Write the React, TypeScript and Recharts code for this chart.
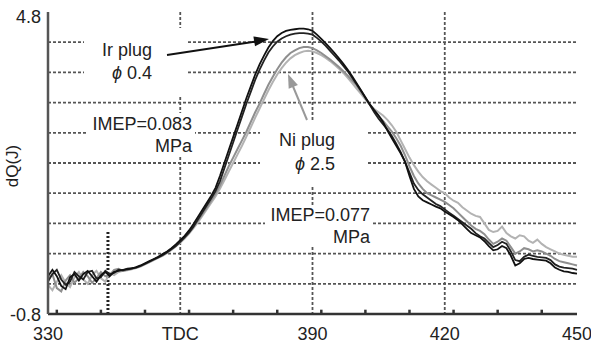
import { CartesianGrid, Line, LineChart, ReferenceLine, XAxis, YAxis } from "recharts";

const FONT = "'Liberation Sans', Arial, Helvetica, sans-serif";

// crank angle (deg)
const crankAngle = [
  330, 331, 332, 333, 334, 335, 336, 337, 338, 339,
  340, 341, 342, 343, 344, 345, 346, 347, 348, 349,
  350, 351, 352, 353, 354, 355, 356, 357, 358, 359,
  360, 361, 362, 363, 364, 365, 366, 367, 368, 369,
  370, 371, 372, 373, 374, 375, 376, 377, 378, 379,
  380, 381, 382, 383, 384, 385, 386, 387, 388, 389,
  390, 391, 392, 393, 394, 395, 396, 397, 398, 399,
  400, 401, 402, 403, 404, 405, 406, 407, 408, 409,
  410, 411, 412, 413, 414, 415, 416, 417, 418, 419,
  420, 421, 422, 423, 424, 425, 426, 427, 428, 429,
  430, 431, 432, 433, 434, 435, 436, 437, 438, 439,
  440, 441, 442, 443, 444, 445, 446, 447, 448, 449,
  450,
];

// Ir plug, phi 0.4 (two cycles)
const irA = [
  -0.1, 0.02, -0.1, -0.28, -0.34, -0.12, -0.06, -0.18, -0.06, 0.0,
  -0.1, -0.2, -0.08, -0.02, -0.1, -0.02, 0.0, 0.02, 0.03, 0.04,
  0.07, 0.1, 0.14, 0.18, 0.22, 0.26, 0.31, 0.36, 0.42, 0.49,
  0.57, 0.65, 0.75, 0.87, 1.0, 1.13, 1.26, 1.39, 1.54, 1.76,
  2.0, 2.24, 2.48, 2.72, 2.96, 3.2, 3.42, 3.64, 3.83, 3.99,
  4.14, 4.26, 4.35, 4.41, 4.45, 4.47, 4.48, 4.49, 4.49, 4.48,
  4.45, 4.38, 4.3, 4.22, 4.13, 4.04, 3.94, 3.84, 3.73, 3.61,
  3.48, 3.35, 3.21, 3.09, 2.98, 2.88, 2.76, 2.6, 2.46, 2.32,
  2.18, 2.02, 1.76, 1.52, 1.38, 1.31, 1.27, 1.23, 1.19, 1.16,
  1.1, 1.05, 1.0, 0.94, 0.86, 0.78, 0.7, 0.66, 0.62, 0.55,
  0.46, 0.38, 0.4, 0.46, 0.42, 0.28, 0.1, 0.14, 0.22, 0.24,
  0.22, 0.21, 0.2, 0.19, 0.14, 0.06, 0.02, -0.01, -0.02, -0.04,
  -0.05,
];
const irB = [
  -0.2, -0.06, 0.02, -0.16, -0.26, -0.2, -0.02, -0.1, -0.16, -0.02,
  0.0, -0.14, -0.12, 0.0, -0.06, -0.04, 0.02, 0.01, 0.04, 0.05,
  0.06, 0.09, 0.13, 0.17, 0.21, 0.25, 0.29, 0.34, 0.4, 0.46,
  0.54, 0.62, 0.71, 0.82, 0.95, 1.08, 1.21, 1.34, 1.48, 1.66,
  1.9, 2.14, 2.38, 2.62, 2.86, 3.1, 3.32, 3.54, 3.73, 3.9,
  4.05, 4.16, 4.25, 4.31, 4.35, 4.38, 4.4, 4.41, 4.41, 4.4,
  4.38, 4.32, 4.25, 4.17, 4.08, 3.99, 3.9, 3.8, 3.7, 3.58,
  3.46, 3.34, 3.22, 3.08, 2.94, 2.82, 2.72, 2.62, 2.5, 2.36,
  2.2, 2.02, 1.82, 1.62, 1.5, 1.42, 1.36, 1.3, 1.24, 1.2,
  1.14, 1.08, 1.02, 0.96, 0.9, 0.84, 0.78, 0.7, 0.64, 0.6,
  0.52, 0.44, 0.48, 0.54, 0.5, 0.36, 0.2, 0.18, 0.26, 0.3,
  0.28, 0.26, 0.25, 0.24, 0.2, 0.12, 0.08, 0.06, 0.05, 0.04,
  0.02,
];

// Ni plug, phi 2.5 (two cycles)
const niA = [
  -0.16, -0.06, -0.32, -0.38, -0.18, -0.08, -0.22, -0.14, -0.02, -0.1,
  -0.22, -0.14, -0.02, -0.1, -0.08, 0.02, 0.04, 0.0, 0.02, 0.04,
  0.06, 0.09, 0.13, 0.17, 0.21, 0.25, 0.3, 0.35, 0.41, 0.48,
  0.55, 0.63, 0.72, 0.82, 0.93, 1.05, 1.17, 1.3, 1.43, 1.58,
  1.76, 1.94, 2.1, 2.26, 2.42, 2.58, 2.76, 2.94, 3.1, 3.28,
  3.45, 3.6, 3.74, 3.86, 3.96, 4.04, 4.09, 4.13, 4.15, 4.15,
  4.13, 4.09, 4.04, 3.98, 3.92, 3.85, 3.78, 3.7, 3.62, 3.53,
  3.44, 3.32, 3.2, 3.08, 2.97, 2.87, 2.78, 2.68, 2.58, 2.46,
  2.32, 2.14, 1.94, 1.76, 1.62, 1.52, 1.44, 1.4, 1.36, 1.32,
  1.28, 1.22, 1.16, 1.08, 1.0, 0.92, 0.84, 0.78, 0.74, 0.68,
  0.58, 0.5, 0.54, 0.6, 0.56, 0.44, 0.32, 0.36, 0.42, 0.4,
  0.36, 0.38, 0.36, 0.32, 0.28, 0.22, 0.18, 0.16, 0.14, 0.12,
  0.1,
];
const niB = [
  -0.26, -0.36, -0.2, -0.08, -0.22, -0.3, -0.12, -0.02, -0.16, -0.24,
  -0.08, 0.0, -0.14, -0.2, -0.04, -0.08, -0.02, 0.0, 0.01, 0.03,
  0.05, 0.08, 0.12, 0.16, 0.2, 0.24, 0.28, 0.33, 0.39, 0.45,
  0.52, 0.6, 0.69, 0.79, 0.9, 1.02, 1.14, 1.26, 1.38, 1.52,
  1.68, 1.84, 2.0, 2.16, 2.32, 2.49, 2.66, 2.84, 3.01, 3.18,
  3.35, 3.5, 3.64, 3.76, 3.86, 3.94, 4.0, 4.04, 4.07, 4.08,
  4.07, 4.04, 4.0, 3.95, 3.89, 3.82, 3.75, 3.67, 3.58, 3.48,
  3.38, 3.28, 3.18, 3.08, 3.0, 2.94, 2.88, 2.8, 2.7, 2.58,
  2.42, 2.26, 2.1, 1.96, 1.84, 1.74, 1.66, 1.6, 1.54, 1.48,
  1.44, 1.36, 1.3, 1.26, 1.18, 1.12, 1.06, 1.02, 1.0, 0.88,
  0.76, 0.72, 0.74, 0.82, 0.7, 0.64, 0.6, 0.66, 0.64, 0.56,
  0.52, 0.58, 0.5, 0.44, 0.4, 0.36, 0.32, 0.3, 0.28, 0.26,
  0.26,
];

const xTicks = [330, 360, 390, 420, 450];
const xGrid = [360, 390, 420];
const minorTicks = [332, 342, 352, 362, 372, 382, 392, 402, 412, 422, 432, 442];
const yTicks = [-0.8, 4.8];
const yGrid = [-0.24, 0.32, 0.88, 1.44, 2.0, 2.56, 3.12, 3.68, 4.24];
const sparkTiming = 343.6;

const data = crankAngle.map((x, i) => ({
  x,
  irA: irA[i],
  irB: irB[i],
  niA: niA[i],
  niB: niB[i],
}));

const XTick = (props: any) => {
  const { x, y, payload } = props;
  return (
    <text x={x} y={y} dy={26} textAnchor="middle" fontSize={18} fontFamily={FONT} fill="#222">
      {payload.value === 360 ? "TDC" : payload.value}
    </text>
  );
};

const YTick = (props: any) => {
  const { x, y, payload } = props;
  return (
    <text x={x - 7} y={y} dy={payload.value > 0 ? 10.5 : 6.5} textAnchor="end" fontSize={18} fontFamily={FONT} fill="#222">
      {payload.value}
    </text>
  );
};

const txt = { fontSize: 18, fontFamily: FONT, fill: "#222", textAnchor: "end" as const };

function Annotations() {
  return (
    <svg width={591} height={344} style={{ position: "absolute", left: 0, top: 0, pointerEvents: "none" }}>
      <rect x={84} y={28} width={102} height={67} fill="#fff" />
      <rect x={88} y={113} width={107} height={44} fill="#fff" />
      <rect x={260} y={121} width={108} height={65} fill="#fff" />
      <rect x={265} y={206} width={108} height={41} fill="#fff" />

      <text x={12} y={166} transform="rotate(-90 12 166)" dy={6} textAnchor="middle" fontSize={17} fontFamily={FONT} fill="#222">
        dQ(J)
      </text>

      <text {...txt} x={152} y={56}>Ir plug</text>
      <text {...txt} x={152} y={79}>
        <tspan fontStyle="italic">ϕ</tspan> 0.4
      </text>
      <text {...txt} x={192} y={130}>IMEP=0.083</text>
      <text {...txt} x={192} y={152}>MPa</text>
      <text {...txt} x={335} y={146}>Ni plug</text>
      <text {...txt} x={335} y={170}>
        <tspan fontStyle="italic">ϕ</tspan> 2.5
      </text>
      <text {...txt} x={370} y={221}>IMEP=0.077</text>
      <text {...txt} x={370} y={243}>MPa</text>

      <line x1={167} y1={55} x2={256} y2={41.5} stroke="#111" strokeWidth={2} />
      <polygon points="269,39 255,46.2 253.4,36.4" fill="#111" />
      <line x1={307} y1={120} x2={292} y2={84} stroke="#999" strokeWidth={2} />
      <polygon points="288,74 297.9,85 288.7,88.8" fill="#999" />
    </svg>
  );
}

export default function App() {
  return (
    <div style={{ position: "absolute", left: 0, top: 0, width: 591, height: 344, background: "#fff" }}>
      <LineChart width={591} height={344} data={data} margin={{ top: 12, right: 14, bottom: 0, left: 0 }}>
        <CartesianGrid
          horizontalValues={yGrid}
          verticalValues={xGrid}
          stroke="#555"
          strokeWidth={1.8}
          strokeDasharray="3 2"
        />
        <XAxis
          dataKey="x"
          type="number"
          domain={[330, 450]}
          ticks={xTicks}
          interval={0}
          tick={<XTick />}
          tickLine={false}
          tickSize={0}
          tickMargin={0}
          height={30}
          axisLine={{ stroke: "#333", strokeWidth: 2.5 }}
        />
        <XAxis
          xAxisId="top"
          orientation="top"
          type="number"
          domain={[330, 450]}
          tick={false}
          tickLine={false}
          height={0}
          axisLine={{ stroke: "#777", strokeWidth: 2.5 }}
        />
        <YAxis
          type="number"
          domain={[-0.8, 4.8]}
          ticks={yTicks}
          interval={0}
          tick={<YTick />}
          tickLine={false}
          tickSize={0}
          tickMargin={0}
          width={48}
          axisLine={{ stroke: "#555", strokeWidth: 2.5 }}
        />
        <YAxis
          yAxisId="right"
          orientation="right"
          type="number"
          domain={[-0.8, 4.8]}
          tick={false}
          tickLine={false}
          width={0}
          axisLine={{ stroke: "#777", strokeWidth: 3 }}
        />
        <ReferenceLine
          segment={[{ x: sparkTiming, y: -0.8 }, { x: sparkTiming, y: 0.72 }]}
          stroke="#222"
          strokeWidth={3}
          strokeDasharray="2 2"
        />
        {minorTicks.map((t) => (
          <ReferenceLine key={t} segment={[{ x: t, y: -0.8 }, { x: t, y: -0.72 }]} stroke="#333" strokeWidth={2.5} />
        ))}
        <Line dataKey="niB" stroke="#b3b3b3" strokeWidth={2} dot={false} isAnimationActive={false} />
        <Line dataKey="niA" stroke="#8f8f8f" strokeWidth={2} dot={false} isAnimationActive={false} />
        <Line dataKey="irB" stroke="#222" strokeWidth={1.8} dot={false} isAnimationActive={false} />
        <Line dataKey="irA" stroke="#111" strokeWidth={1.8} dot={false} isAnimationActive={false} />
      </LineChart>
      <Annotations />
    </div>
  );
}
